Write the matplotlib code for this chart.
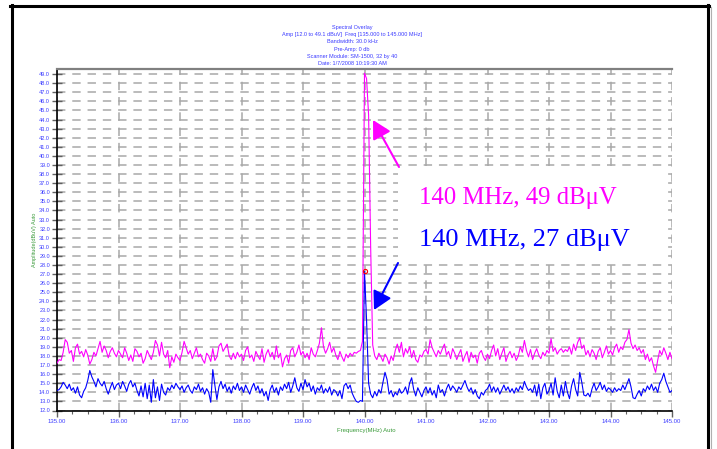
import matplotlib
matplotlib.use('Agg')
import matplotlib.pyplot as plt
import matplotlib.ticker as mticker
from matplotlib.lines import Line2D
from matplotlib.patches import Rectangle, FancyArrowPatch
import numpy as np

# frequency span of the sweep (MHz)
freq_start = 135.0
freq_stop = 145.0

# upper trace (magenta), dBuV
magenta_dbuv = [
    17.2, 17.6, 17.5, 18.4, 19.8, 19.5, 18.3, 18.6, 17.4, 18.9,
    19.3, 18.2, 18.5, 17.9, 18.7, 18.1, 17.1, 17.6, 18.4, 18.0,
    18.8, 19.6, 18.4, 19.1, 18.6, 17.8, 18.5, 18.9, 18.3, 17.9,
    18.6, 18.2, 17.8, 18.9, 18.3, 17.5, 18.1, 17.4, 18.8, 18.5,
    17.9, 18.3, 17.2, 17.7, 18.6, 18.1, 17.6, 18.4, 19.7, 19.2,
    18.0, 19.5, 18.2, 17.8, 18.6, 16.7, 17.9, 17.3, 18.2, 17.8,
    17.5, 18.4, 19.6, 18.9, 18.2, 18.6, 17.7, 18.3, 18.9, 17.9,
    18.2, 17.6, 17.2, 18.3, 18.0, 17.4, 18.8, 17.5, 17.9, 19.1,
    19.4, 18.5, 18.9, 19.3, 18.0, 17.6, 18.3, 17.7, 18.4, 17.9,
    18.2, 17.5, 18.6, 19.0, 17.8, 18.1, 17.4, 18.5, 18.0, 17.6,
    18.8, 17.3, 18.2, 18.7, 17.9, 18.4, 17.6, 19.1, 17.8, 18.3,
    16.8, 17.7, 18.1, 17.2, 18.6, 18.9, 17.9, 18.4, 19.2, 18.1,
    18.5, 17.8, 18.3, 17.6, 18.9, 18.2, 17.9, 18.6, 19.4, 21.1,
    19.0, 18.3, 18.8, 19.5, 18.4, 18.9, 18.1, 17.6, 18.5, 17.9,
    17.4, 18.2, 17.8, 18.3, 18.0, 18.4, 18.3, 18.5, 18.6, 19.6,
    49.1, 48.5, 44.5, 30.0, 19.2,
    18.0, 17.6, 18.3, 17.9, 17.4, 18.2, 17.8, 17.1, 18.0, 17.5,
    18.6, 19.3, 18.4, 19.5, 17.9, 18.8, 18.3, 19.0, 17.8, 18.6,
    17.6, 17.3, 18.1, 17.9, 18.5,
    18.7, 18.2, 19.8, 18.9, 18.4, 17.9, 18.6, 18.2, 18.8, 19.3,
    18.1, 18.5, 17.7, 18.8, 18.3, 17.6, 18.2, 18.7, 17.4, 18.0,
    18.5, 17.3, 18.4, 17.8, 18.1, 17.2, 18.3, 18.6, 17.9, 17.5,
    18.2, 17.7, 18.6, 19.2, 18.0, 18.8, 17.6, 18.3, 18.9, 17.4,
    18.1, 18.5, 17.8, 18.3, 17.5, 18.0, 19.0, 18.4, 19.7, 18.6,
    17.9, 18.7, 17.6, 18.3, 18.8, 18.1, 17.7, 18.4, 18.0, 18.6,
    18.3, 19.9, 18.5, 18.9, 18.2, 18.6, 18.8, 18.4, 18.7, 18.5,
    19.0, 18.2, 19.3, 18.6, 19.5, 20.0, 18.8, 19.2, 18.1, 18.6,
    17.9, 18.7, 18.3, 17.6, 18.5, 18.9, 17.8, 18.4, 19.1, 18.2,
    18.6, 18.1, 18.9, 19.3, 18.4, 19.0, 18.7, 19.5, 19.8, 20.9,
    19.4, 18.8, 19.2, 18.6, 18.9, 18.3, 18.7, 17.6, 18.2, 17.4,
    17.8, 16.9, 16.2, 17.5, 18.6, 18.1, 18.9, 18.3, 17.6, 18.4,
    17.7,
]

# lower trace (blue), dBuV
blue_dbuv = [
    14.2, 14.3, 14.6, 15.1, 14.8, 14.4, 14.9, 14.2, 14.5, 13.9,
    14.6, 13.7, 13.4, 14.1, 14.5, 15.3, 16.4, 15.7, 15.2, 14.6,
    15.5, 15.0, 14.7, 15.2, 14.4, 13.8, 14.5, 15.1, 14.3, 14.8,
    15.0, 14.4, 15.2, 14.7, 14.1, 14.9, 15.3, 14.6, 15.0, 14.2,
    13.6, 14.7, 13.5, 15.0, 13.3, 14.8, 12.9, 15.4, 13.4, 14.6,
    13.1, 14.9, 14.0, 13.7, 14.5, 14.2, 14.8, 14.4, 15.0, 14.6,
    14.3, 14.7, 14.0, 14.5, 14.8, 14.2, 13.9, 14.6, 14.3, 14.9,
    14.1, 14.5, 13.8, 14.4, 14.0, 12.9, 16.5, 14.8, 13.2, 14.6,
    15.2, 14.4, 14.9, 14.1, 14.6, 13.9, 14.7, 14.3, 15.0, 14.2,
    14.6, 14.0, 14.8, 14.3, 13.8, 14.5, 15.0, 14.2, 14.7, 13.9,
    14.4, 13.6, 14.1, 13.1, 14.3, 14.8, 14.0, 14.5, 13.7, 14.6,
    14.2, 14.9, 14.4, 15.1, 14.0, 14.7, 15.6, 14.5, 14.1, 15.0,
    14.3, 15.4, 14.6, 15.0, 14.1, 14.7, 13.8, 14.5, 14.2, 14.8,
    13.9, 14.4, 14.0, 14.6, 13.7, 14.3, 14.1, 13.6, 14.2, 13.3,
    14.7, 15.0, 14.4, 14.8, 13.9, 13.4, 13.0, 12.9, 13.1, 13.0,
    27.3, 22.0, 15.0,
    13.8, 13.4, 14.1, 13.6, 14.3, 13.9, 15.1, 16.2, 15.4, 13.8,
    14.2, 13.5, 14.0, 13.7, 14.4, 13.9, 14.1, 14.6, 13.8, 15.0,
    15.6, 14.3, 13.6, 14.5, 14.0, 13.5, 14.2,
    14.6, 13.9, 14.5, 13.7, 14.2, 13.4, 14.8, 14.0, 14.3, 13.6,
    14.4, 14.9, 14.2, 14.7, 14.4, 14.0, 14.6, 14.3, 14.8, 15.3,
    14.6, 14.1, 14.5, 13.8, 14.3, 13.6, 13.3, 14.0, 13.7, 14.2,
    14.4, 14.9, 14.1, 14.6, 14.0, 14.5, 13.8, 14.3, 14.8, 14.2,
    14.6, 14.0, 14.4, 13.9, 14.5, 14.1, 14.7, 14.3, 15.2, 14.6,
    14.2, 14.4, 14.0, 14.8, 13.6, 14.9, 13.3, 14.5, 15.0, 13.8,
    14.2, 15.0, 13.7, 15.6, 14.1, 13.4, 14.8, 13.6, 15.2, 14.0,
    13.3, 14.7, 15.5, 14.3, 13.6, 16.2, 15.1, 13.7, 13.6, 13.9,
    13.5, 14.4, 15.0, 14.2, 14.6, 15.1, 14.3, 14.8, 14.1, 14.5,
    14.3, 14.0, 14.5, 14.1, 14.4, 14.2, 14.8, 14.3, 14.9, 15.5,
    14.6, 13.4, 13.3, 13.8, 14.2, 13.6, 14.4, 14.1, 14.7, 14.3,
    14.9, 14.2, 14.6, 14.0, 15.0, 15.4, 16.1, 15.2, 14.6, 14.0,
    14.2,
]

# red marker on the blue peak
marker_freq = 140.0
marker_dbuv = 27.3

title_lines = [
    'Spectral Overlay',
    'Amp [12.0 to 49.1 dBuV]  Freq [135.000 to 145.000 MHz]',
    'Bandwidth: 30.0 kHz',
    'Pre-Amp: 0 db',
    'Scanner Module: SM-1500, 32 by 40',
    'Date: 1/7/2008 10:19:30 AM',
]
note_magenta = '140 MHz, 49 dBμV'
note_blue = '140 MHz, 27 dBμV'

W, H = 717, 449
MAGENTA = '#ff00ff'
BLUE = '#0000ff'
LABEL_BLUE = '#3c3cff'
LABEL_GREEN = '#3a9a3a'


def fx(px):
    return px / W


def fy(py):
    return 1 - py / H


def draw_frame(fig):
    kw = dict(transform=fig.transFigure, color='black', linewidth=2.2)
    fig.add_artist(Line2D([fx(10), fx(709)], [fy(5.5), fy(5.5)], **kw))
    fig.add_artist(Line2D([fx(11.5), fx(11.5)], [fy(5), fy(449)], **kw))
    fig.add_artist(Line2D([fx(708), fx(708)], [fy(5), fy(449)], **kw))
    fig.add_artist(Line2D([fx(711), fx(711)], [fy(7), fy(449)],
                          transform=fig.transFigure, color='#b0b0b0', linewidth=0.8))


def draw_titles(fig):
    ys = [27.5, 34.7, 41.9, 49.1, 56.3, 63.5]
    for line, y in zip(title_lines, ys):
        fig.text(fx(352), fy(y), line, ha='center', va='center', fontsize=4,
                 family='Liberation Sans', color=LABEL_BLUE)


def plot_overlay():
    freq = np.linspace(freq_start, freq_stop, len(magenta_dbuv))
    freq_b = np.linspace(freq_start, freq_stop, len(blue_dbuv))

    fig = plt.figure(figsize=(W / 100, H / 100), dpi=100)
    ax = fig.add_axes([fx(57), fy(410.5), (672 - 57) / W, 341 / H])
    ax.set_axisbelow(True)

    ax.plot(freq, magenta_dbuv, color=MAGENTA, linewidth=0.8, zorder=3)
    ax.plot(freq_b, blue_dbuv, color=BLUE, linewidth=0.8, zorder=4)
    ax.plot([marker_freq], [marker_dbuv], marker='o', markersize=3, mfc='none',
            mec='red', mew=0.8, linestyle='none', zorder=5)

    ax.set_xlim(freq_start, freq_stop)
    ax.set_ylim(12.0, 49.5)
    ax.xaxis.set_major_locator(mticker.MultipleLocator(1.0))
    ax.xaxis.set_minor_locator(mticker.MultipleLocator(0.25))
    ax.xaxis.set_major_formatter(mticker.FormatStrFormatter('%.2f'))
    ax.yaxis.set_major_locator(mticker.FixedLocator(np.arange(12, 50)))
    ax.yaxis.set_major_formatter(mticker.FormatStrFormatter('%.1f'))

    ax.grid(True, which='major', color='#a8a8a8', linestyle=(0, (5.5, 4.5)), linewidth=1.1)

    ax.tick_params(axis='y', direction='inout', length=7, width=1, color='#606060',
                   labelsize=4, labelcolor=LABEL_BLUE, pad=1.5)
    ax.tick_params(axis='x', which='major', direction='out', length=4, width=1,
                   color='#606060', labelsize=4.3, labelcolor=LABEL_BLUE, pad=2)
    ax.tick_params(axis='x', which='minor', direction='out', length=2.5, width=0.8,
                   color='#606060')
    for lab in ax.get_xticklabels() + ax.get_yticklabels():
        lab.set_family('Liberation Sans')

    ax.spines['top'].set_color('#808080')
    ax.spines['top'].set_linewidth(1.6)
    ax.spines['left'].set_linewidth(1.2)
    ax.spines['bottom'].set_linewidth(1.2)
    ax.spines['right'].set_visible(False)

    ax.set_xlabel('Frequency(MHz) Auto', fontsize=4.3, color=LABEL_GREEN,
                  family='Liberation Sans')
    ax.set_ylabel('Amplitude(dBuV) Auto', fontsize=4, color=LABEL_GREEN,
                  family='Liberation Sans')
    ax.xaxis.set_label_coords(0.5 + (366 - 364.5) / 615, -(428 - 410.5) / 341)
    ax.yaxis.set_label_coords(-(57 - 37) / 615, 0.5)

    # white note box with the two readings
    ax.add_patch(Rectangle((fx(398), fy(262)), (664 - 398) / W, (262 - 166) / H,
                           transform=fig.transFigure, facecolor='white',
                           edgecolor='none', zorder=2))
    fig.text(fx(419), fy(204), note_magenta, fontsize=17.8, family='Liberation Serif',
             color=MAGENTA, ha='left', va='baseline')
    fig.text(fx(419), fy(246), note_blue, fontsize=19, family='Liberation Serif',
             color=BLUE, ha='left', va='baseline')

    arrow_kw = dict(transform=fig.transFigure, arrowstyle='-|>,head_length=0.55,head_width=0.3',
                    mutation_scale=20, linewidth=1.5, shrinkA=0, shrinkB=0)
    fig.add_artist(FancyArrowPatch((fx(399), fy(167)), (fx(373), fy(120)),
                                   color=MAGENTA, **arrow_kw))
    fig.add_artist(FancyArrowPatch((fx(398), fy(263)), (fx(374), fy(310)),
                                   color=BLUE, **arrow_kw))

    draw_titles(fig)
    draw_frame(fig)
    fig.savefig('out.png', dpi=100)


if __name__ == '__main__':
    plot_overlay()
